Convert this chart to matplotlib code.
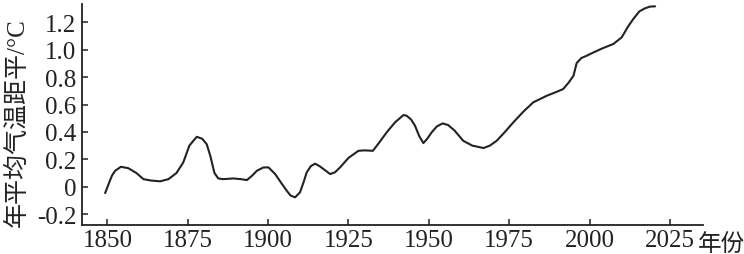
import matplotlib
matplotlib.use("Agg")
import matplotlib.pyplot as plt

# Data
years = [1849.3, 1850.4, 1851.4, 1852.4, 1854.2, 1856.5, 1859.0, 1861.2, 1863.5,
         1866.4, 1869.0, 1871.5, 1873.6, 1875.5, 1877.8, 1879.5, 1880.9, 1882.0,
         1883.3, 1884.5, 1886.0, 1889.2, 1891.5, 1893.4, 1895.0, 1896.5, 1898.5,
         1900.1, 1902.2, 1904.0, 1905.8, 1907.0, 1908.4, 1909.9, 1911.0, 1912.0,
         1913.3, 1914.6, 1916.0, 1917.2, 1919.3, 1920.8, 1922.4, 1925.0, 1928.1,
         1930.0, 1932.6, 1934.5, 1936.9, 1939.5, 1942.1, 1943.1, 1944.5, 1945.7,
         1947.0, 1948.3, 1949.5, 1950.9, 1952.5, 1954.3, 1956.0, 1958.0, 1960.7,
         1963.5, 1967.0, 1969.0, 1971.1, 1973.5, 1976.3, 1979.5, 1982.5, 1986.7,
         1989.5, 1991.8, 1993.5, 1995.0, 1996.0, 1997.5, 1999.1, 2001.2, 2004.0,
         2007.4, 2010.0, 2012.0, 2013.6, 2015.5, 2017.2, 2018.8, 2020.4]
anomaly = [-0.047, 0.02, 0.08, 0.116, 0.145, 0.135, 0.10, 0.055, 0.045,
           0.039, 0.055, 0.10, 0.177, 0.30, 0.364, 0.35, 0.31, 0.226,
           0.10, 0.06, 0.055, 0.06, 0.055, 0.048, 0.08, 0.116, 0.14,
           0.141, 0.092, 0.03, -0.03, -0.065, -0.078, -0.042, 0.03, 0.104,
           0.15, 0.168, 0.15, 0.129, 0.092, 0.105, 0.141, 0.21, 0.262,
           0.265, 0.262, 0.32, 0.397, 0.47, 0.523, 0.518, 0.49, 0.445,
           0.37, 0.318, 0.35, 0.397, 0.44, 0.462, 0.45, 0.41, 0.335,
           0.30, 0.282, 0.30, 0.335, 0.395, 0.47, 0.55, 0.616, 0.664,
           0.69, 0.713, 0.76, 0.81, 0.903, 0.94, 0.956, 0.98, 1.01,
           1.042, 1.09, 1.17, 1.224, 1.28, 1.302, 1.315, 1.317]

x_ticks = [1850, 1875, 1900, 1925, 1950, 1975, 2000, 2025]
y_ticks = [-0.2, 0, 0.2, 0.4, 0.6, 0.8, 1.0, 1.2]
y_tick_labels = ["-0.2", "0", "0.2", "0.4", "0.6", "0.8", "1.0", "1.2"]
y_label = "年平均气温距平/°C"
x_label = "年份"

fonts = ["Liberation Serif", "Noto Sans CJK SC", "DejaVu Sans"]
plt.rcParams["font.family"] = fonts

fig = plt.figure(figsize=(7.44, 2.55), dpi=100)
ax = fig.add_axes([0.1098, 0.1137, 0.8351, 0.8667])

ax.plot(years, anomaly, color="#222222", lw=1.5, solid_capstyle="round")

ax.set_xlim(1842.0, 2035.3)
ax.set_ylim(-0.28, 1.334)
ax.set_xticks(x_ticks)
ax.set_xticklabels([str(v) for v in x_ticks])
ax.set_yticks(y_ticks)
ax.set_yticklabels(y_tick_labels)

for s in ["top", "right"]:
    ax.spines[s].set_visible(False)
for s in ["left", "bottom"]:
    ax.spines[s].set_linewidth(1.3)
    ax.spines[s].set_color("#222222")

ax.tick_params(axis="both", direction="in", length=4.5, width=1.1,
               colors="#222222", labelsize=18, labelcolor="#222222")
ax.tick_params(axis="x", pad=3)
ax.tick_params(axis="y", pad=4)

ax.annotate(x_label, xy=(1.0, 0.0), xycoords="axes fraction",
            xytext=(-3.5, -18.2), textcoords="offset points",
            ha="left", va="baseline", fontsize=17, color="#222222",
            family=["Noto Sans CJK SC"])

fig.text(0.023, 0.518, y_label, rotation=90, ha="center", va="center",
         fontsize=18, color="#222222")

fig.savefig("out.png", dpi=100)
